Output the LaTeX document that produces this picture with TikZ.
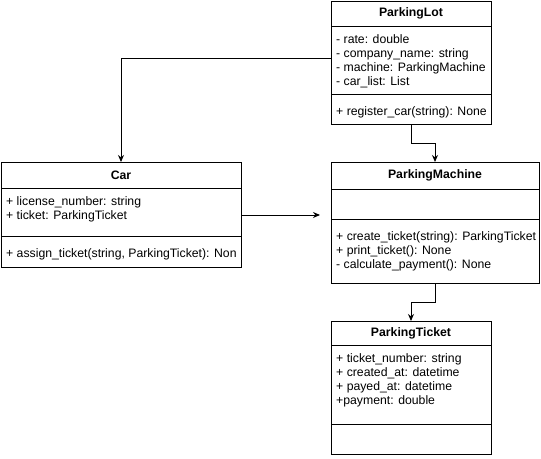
\documentclass[tikz,border=0pt]{standalone}
\usepackage{fontspec}
\setmainfont{Liberation Sans}
\usetikzlibrary{arrows.meta}

\newcommand{\umlfont}{\fontsize{12.25}{14}\selectfont}
\newcommand{\fst}{\rule{0pt}{10pt}}

\begin{document}
\begin{tikzpicture}[x=1pt,y=-1pt,
    umlpart/.style={draw, line width=1pt, rectangle, inner sep=0pt, outer sep=0pt, anchor=north west},
    umlhead/.style={umlpart, font=\umlfont\bfseries},
    umltext/.style={anchor=north west, inner sep=0pt, align=left, font=\umlfont},
    umllink/.style={line width=1pt, -{Stealth[length=7pt,width=6pt]}}]
    \useasboundingbox (0,0) rectangle (541,458);

    % ParkingLot
    \node[umlhead, minimum width=160, minimum height=25] (lot) at (331,1) {ParkingLot};
    \node[umlpart, minimum width=160, minimum height=68] (lot-attr) at (lot.south west) {};
    \node[umlpart, minimum width=160, minimum height=30] (lot-ops) at (lot-attr.south west) {};
    \node[umltext] (lot-attrtext) at ([shift={(5,7)}]lot-attr.north west)
        {\fst- rate: double\\- company\_name: string\\- machine: ParkingMachine\\- car\_list: List};
    \node[umltext] (lot-opstext) at ([shift={(5,11)}]lot-ops.north west)
        {\fst+ register\_car(string): None};

    % ParkingMachine
    \node[umlhead, minimum width=208, minimum height=27] (machine) at (331,162) {ParkingMachine};
    \node[umlpart, minimum width=208, minimum height=30] (machine-attr) at (machine.south west) {};
    \node[umlpart, minimum width=208, minimum height=64] (machine-ops) at (machine-attr.south west) {};
    \node[umltext] (machine-opstext) at ([shift={(5,11)}]machine-ops.north west)
        {\fst+ create\_ticket(string): ParkingTicket\\+ print\_ticket(): None\\- calculate\_payment(): None};

    % Car
    \node[umlhead, minimum width=240, minimum height=26] (car) at (1,162) {Car};
    \node[umlpart, minimum width=240, minimum height=48] (car-attr) at (car.south west) {};
    \node[umlpart, minimum width=240, minimum height=31] (car-ops) at (car-attr.south west) {};
    \node[umltext] (car-attrtext) at ([shift={(5,7)}]car-attr.north west)
        {\fst+ license\_number: string\\+ ticket: ParkingTicket};
    \node[umltext] (car-opstext) at ([shift={(5,11)}]car-ops.north west)
        {\fst+ assign\_ticket(string, ParkingTicket): Non};

    % ParkingTicket
    \node[umlhead, minimum width=160, minimum height=24] (ticket) at (331,321) {ParkingTicket};
    \node[umlpart, minimum width=160, minimum height=79] (ticket-attr) at (ticket.south west) {};
    \node[umlpart, minimum width=160, minimum height=30] (ticket-ops) at (ticket-attr.south west) {};
    \node[umltext] (ticket-attrtext) at ([shift={(5,7)}]ticket-attr.north west)
        {\fst+ ticket\_number: string\\+ created\_at: datetime\\+ payed\_at: datetime\\+payment: double};

    % Connectors
    \coordinate (car-dep) at (320,215);
    \draw[umllink] ([yshift=2pt]lot-attr.west) -| (car.north);
    \draw[umllink] (lot-ops.south) -- ++(0,19) -| (machine.north);
    \draw[umllink] (car-attr.east |- car-dep) -- (car-dep);
    \draw[umllink] (machine-ops.south) -- ++(0,19) -| (ticket.north);
\end{tikzpicture}
\end{document}
